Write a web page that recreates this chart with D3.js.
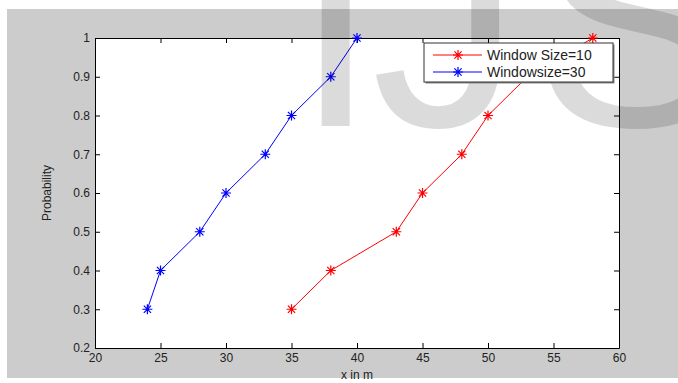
<!DOCTYPE html>
<html>
<head>
<meta charset="utf-8">
<script src="https://cdn.jsdelivr.net/npm/d3@7"></script>
<style>
  html, body { margin: 0; padding: 0; background: #fff; }
  svg { display: block; }
  text { font-family: "Liberation Sans", Arial, sans-serif; }
</style>
</head>
<body>
<svg id="chart"></svg>
<script>
// data
const xTicks = [20, 25, 30, 35, 40, 45, 50, 55, 60];
const yTicks = [0.2, 0.3, 0.4, 0.5, 0.6, 0.7, 0.8, 0.9, 1];
const probs = [0.3, 0.4, 0.5, 0.6, 0.7, 0.8, 0.9, 1.0];
const win10 = [35, 38, 43, 45, 48, 50, 53, 58];
const win30 = [24, 25, 28, 30, 33, 35, 38, 40];
const seriesNames = ['Window Size=10', 'Windowsize=30'];
const seriesColors = ['#ff0000', '#0000ff'];

const width = 678, height = 383;
const plot = { left: 95, right: 619, top: 38, bottom: 348 };

const svg = d3.select('#chart').attr('width', width).attr('height', height);

// figure background (grey panel)
svg.append('rect').attr('x', 7).attr('y', 9)
  .attr('width', width - 7).attr('height', 369).attr('fill', '#cccccc');

const x = d3.scaleLinear().domain([20, 60]).range([plot.left, plot.right]);
const y = d3.scaleLinear().domain([0.2, 1]).range([plot.bottom, plot.top]);

svg.append('rect')
  .attr('x', plot.left).attr('y', plot.top)
  .attr('width', plot.right - plot.left).attr('height', plot.bottom - plot.top)
  .attr('fill', '#fff');

// axes, ticks pointing inward (matlab style)
const tickLen = 5;
const axisBottom = d3.axisBottom(x).tickValues(xTicks).tickSizeInner(-tickLen).tickSizeOuter(0).tickPadding(5);
const axisTop = d3.axisTop(x).tickValues(xTicks).tickSizeInner(-tickLen).tickSizeOuter(0).tickFormat('');
const axisLeft = d3.axisLeft(y).tickValues(yTicks).tickSizeInner(-tickLen).tickSizeOuter(0).tickPadding(5)
  .tickFormat(d => d3.format('~g')(d));
const axisRight = d3.axisRight(y).tickValues(yTicks).tickSizeInner(-tickLen).tickSizeOuter(0).tickFormat('');

function styleAxis(g) {
  g.select('.domain').attr('stroke', '#000');
  g.selectAll('.tick line').attr('stroke', '#000');
  g.selectAll('.tick text').attr('fill', '#222').style('font-size', '12px')
    .style('font-family', '"Liberation Sans", Arial, sans-serif');
}

svg.append('g').attr('transform', `translate(0,${plot.bottom})`).call(axisBottom).call(styleAxis);
svg.append('g').attr('transform', `translate(0,${plot.top})`).call(axisTop).call(styleAxis);
svg.append('g').attr('transform', `translate(${plot.left},0)`).call(axisLeft).call(styleAxis);
svg.append('g').attr('transform', `translate(${plot.right},0)`).call(axisRight).call(styleAxis);

// axis titles
svg.append('text').attr('x', (plot.left + plot.right) / 2).attr('y', 379)
  .attr('text-anchor', 'middle').attr('fill', '#222').style('font-size', '12px').text('x in m');
svg.append('text').attr('transform', `translate(51,${(plot.top + plot.bottom) / 2}) rotate(-90)`)
  .attr('text-anchor', 'middle').attr('fill', '#222').style('font-size', '12px').text('Probability');

// matlab '*' marker
const r = 5, rd = 3.6;
const starPath = `M${-r},0H${r}M0,${-r}V${r}M${-rd},${-rd}L${rd},${rd}M${-rd},${rd}L${rd},${-rd}`;

const line = d3.line().x(d => x(d[0])).y(d => y(d[1]));
[win10, win30].forEach((xs, i) => {
  const pts = xs.map((v, j) => [v, probs[j]]);
  svg.append('path').datum(pts).attr('d', line)
    .attr('fill', 'none').attr('stroke', seriesColors[i]).attr('stroke-width', 1);
  svg.append('g').selectAll('path').data(pts).join('path')
    .attr('transform', d => `translate(${x(d[0])},${y(d[1])})`)
    .attr('d', starPath).attr('stroke', seriesColors[i]).attr('stroke-width', 1.2).attr('fill', 'none');
});

// watermark
const wm = svg.append('text').attr('x', 294).attr('y', 126)
  .style('font-size', '300px').attr('fill', '#000').attr('fill-opacity', 0.14);
wm.append('tspan').text('I');
wm.append('tspan').attr('dx', -6).text('J');
wm.append('tspan').attr('dx', 14).text('S');

// legend
const lg = svg.append('g').attr('transform', 'translate(424,43)');
lg.append('rect').attr('x', 1.5).attr('y', 1.5).attr('width', 189).attr('height', 39)
  .attr('fill', '#888');
lg.append('rect').attr('width', 189).attr('height', 39)
  .attr('fill', '#fff').attr('stroke', '#333').attr('stroke-width', 1);
seriesNames.forEach((name, i) => {
  const ly = 12 + i * 17;
  lg.append('line').attr('x1', 9).attr('x2', 58).attr('y1', ly).attr('y2', ly)
    .attr('stroke', seriesColors[i]).attr('stroke-width', 1);
  lg.append('path').attr('transform', `translate(34,${ly})`).attr('d', starPath)
    .attr('stroke', seriesColors[i]).attr('stroke-width', 1.2).attr('fill', 'none');
  lg.append('text').attr('x', 63).attr('y', ly + 5).attr('fill', '#222')
    .style('font-size', '14px').text(name);
});
</script>
</body>
</html>
